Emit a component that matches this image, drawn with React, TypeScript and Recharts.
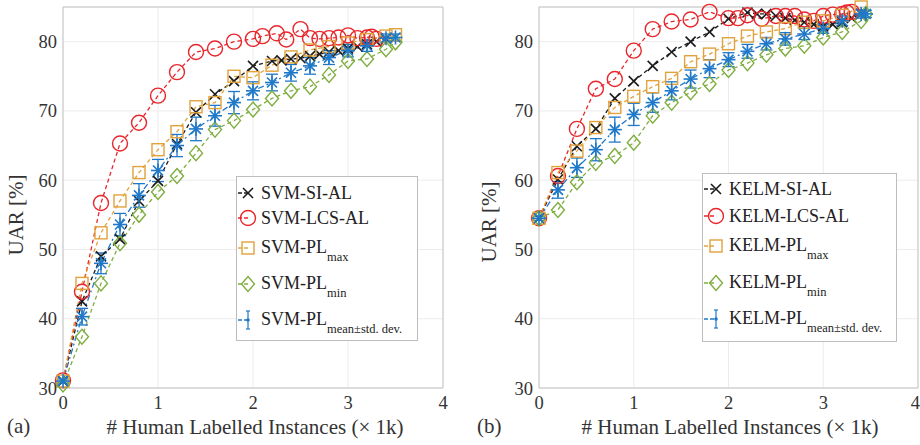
import React from "react";
import {
  LineChart,
  Line,
  XAxis,
  YAxis,
  CartesianGrid,
  ReferenceLine,
  ErrorBar,
  Legend,
} from "recharts";

const SERIF = "'Liberation Serif', 'Times New Roman', serif";

const X_TICKS = [0, 1, 2, 3, 4];
const Y_TICKS = [30, 40, 50, 60, 70, 80];

// panel (a) – SVM
const SVM_SI_X = [0, 0.2, 0.4, 0.6, 0.8, 1.0, 1.2, 1.4, 1.6, 1.8, 2.0, 2.2, 2.3, 2.4, 2.5, 2.6, 2.7, 2.8, 2.9, 3.0, 3.1, 3.2, 3.3, 3.4];
const SVM_SI_Y = [31.0, 42.5, 49.0, 51.5, 57.0, 59.9, 65.2, 69.8, 72.4, 74.3, 76.5, 77.2, 77.3, 77.5, 77.6, 77.9, 78.2, 78.5, 78.7, 79.0, 79.3, 79.6, 80.0, 80.4];

const SVM_LCS_X = [0, 0.2, 0.4, 0.6, 0.8, 1.0, 1.2, 1.4, 1.6, 1.8, 2.0, 2.1, 2.25, 2.35, 2.5, 2.6, 2.7, 2.8, 2.9, 3.0, 3.1, 3.2, 3.25, 3.3];
const SVM_LCS_Y = [31.1, 43.9, 56.7, 65.3, 68.3, 72.2, 75.6, 78.5, 79.0, 80.0, 80.4, 80.8, 81.2, 80.3, 81.8, 80.5, 80.4, 80.5, 80.6, 80.9, 80.5, 80.6, 80.7, 80.4];

const SVM_PL_X = [0, 0.2, 0.4, 0.6, 0.8, 1.0, 1.2, 1.4, 1.6, 1.8, 2.0, 2.2, 2.4, 2.6, 2.8, 3.0, 3.2, 3.4, 3.5];
const SVM_MAX_Y = [31.0, 45.1, 52.4, 57.0, 61.1, 64.4, 67.0, 70.6, 71.2, 75.0, 74.8, 76.6, 77.8, 78.8, 79.3, 79.8, 80.3, 80.8, 81.0];
const SVM_MIN_Y = [30.5, 37.4, 45.1, 50.9, 55.0, 58.3, 60.6, 63.9, 67.3, 68.6, 70.2, 71.8, 72.9, 73.5, 75.2, 77.2, 77.5, 78.9, 79.9];
const SVM_MEAN_Y = [31.0, 40.3, 48.0, 53.6, 57.8, 61.4, 65.0, 67.4, 69.3, 71.2, 72.9, 74.1, 75.5, 76.5, 77.7, 78.7, 79.4, 80.5, 80.6];
const SVM_STD = [0.3, 1.2, 1.5, 1.6, 1.7, 1.6, 1.6, 1.7, 1.5, 1.6, 1.3, 1.2, 1.2, 1.2, 1.0, 0.9, 0.8, 0.6, 0.5];

// panel (b) – KELM
const KELM_SI_X = [0, 0.2, 0.4, 0.6, 0.8, 1.0, 1.2, 1.4, 1.6, 1.8, 2.0, 2.2, 2.3, 2.4, 2.5, 2.6, 2.7, 2.8, 2.9, 3.0, 3.1, 3.2, 3.3, 3.4];
const KELM_SI_Y = [54.5, 60.1, 64.9, 67.4, 71.8, 74.3, 76.5, 78.5, 80.0, 81.4, 83.3, 84.2, 84.0, 84.0, 83.7, 83.4, 83.1, 82.8, 82.5, 82.2, 82.5, 82.8, 83.4, 84.0];

const KELM_LCS_X = [0, 0.2, 0.4, 0.6, 0.8, 1.0, 1.2, 1.4, 1.6, 1.8, 2.0, 2.1, 2.2, 2.35, 2.5, 2.6, 2.7, 2.8, 2.9, 3.0, 3.1, 3.2, 3.25, 3.3];
const KELM_LCS_Y = [54.5, 60.6, 67.4, 73.2, 74.6, 78.7, 81.8, 82.9, 83.2, 84.3, 83.4, 83.4, 83.8, 83.3, 83.7, 83.7, 83.7, 83.2, 83.0, 83.7, 83.9, 84.0, 84.2, 84.3];

const KELM_MAX_X = [0, 0.2, 0.4, 0.6, 0.8, 1.0, 1.2, 1.4, 1.6, 1.8, 2.0, 2.2, 2.4, 2.6, 2.8, 3.0, 3.2, 3.4];
const KELM_MAX_Y = [54.5, 61.1, 64.2, 67.6, 70.5, 72.1, 73.5, 74.7, 77.1, 78.2, 79.7, 80.8, 81.4, 81.9, 82.8, 83.0, 83.8, 85.0];

const KELM_PL_X = [0, 0.2, 0.4, 0.6, 0.8, 1.0, 1.2, 1.4, 1.6, 1.8, 2.0, 2.2, 2.4, 2.6, 2.8, 3.0, 3.2, 3.4, 3.45];
const KELM_MIN_Y = [54.5, 55.7, 59.7, 62.5, 63.5, 65.4, 69.3, 71.2, 72.7, 73.9, 75.9, 76.9, 78.1, 79.0, 79.4, 80.6, 81.4, 83.0, 84.0];
const KELM_MEAN_Y = [54.5, 58.6, 61.8, 64.4, 67.3, 69.5, 71.2, 72.9, 74.6, 76.1, 77.4, 78.6, 79.7, 80.4, 81.1, 81.9, 83.0, 84.0, 84.0];
const KELM_STD = [0.3, 1.2, 1.4, 1.6, 1.8, 1.6, 1.4, 1.3, 1.3, 1.3, 1.0, 1.0, 0.9, 0.9, 0.8, 0.7, 0.7, 0.6, 0.5];

const BLACK = "#1c1c1c";
const RED = "#e8262b";
const ORANGE = "#e2a23c";
const GREEN = "#7fae3f";
const BLUE = "#1f78c8";

type Shape = "x" | "circle" | "square" | "diamond" | "star";

interface Series {
  id: string;
  name: string;
  sub?: string;
  shape: Shape;
  color: string;
  dash: string;
  xs: number[];
  ys: number[];
  err?: number[];
}

function rows(xs: number[], ys: number[], err?: number[]) {
  return xs.map((x, i) => ({ x, y: ys[i], err: err ? err[i] : undefined }));
}

function Marker({ shape, cx, cy, color }: { shape: Shape; cx: number; cy: number; color: string }) {
  if (cx == null || cy == null) return null;
  switch (shape) {
    case "x":
      return (
        <g stroke={color} strokeWidth={1.6}>
          <line x1={cx - 5} y1={cy - 5} x2={cx + 5} y2={cy + 5} />
          <line x1={cx - 5} y1={cy + 5} x2={cx + 5} y2={cy - 5} />
        </g>
      );
    case "circle":
      return <circle cx={cx} cy={cy} r={7.5} fill="none" stroke={color} strokeWidth={1.4} />;
    case "square":
      return <rect x={cx - 6} y={cy - 6} width={12} height={12} fill="none" stroke={color} strokeWidth={1.4} />;
    case "diamond":
      return (
        <polygon
          points={`${cx},${cy - 7.5} ${cx + 6.5},${cy} ${cx},${cy + 7.5} ${cx - 6.5},${cy}`}
          fill="none"
          stroke={color}
          strokeWidth={1.4}
        />
      );
    case "star":
      return (
        <g stroke={color} strokeWidth={1.6}>
          <line x1={cx - 7} y1={cy} x2={cx + 7} y2={cy} />
          <line x1={cx} y1={cy - 7} x2={cx} y2={cy + 7} />
          <line x1={cx - 5} y1={cy - 5} x2={cx + 5} y2={cy + 5} />
          <line x1={cx - 5} y1={cy + 5} x2={cx + 5} y2={cy - 5} />
        </g>
      );
  }
  return null;
}

function LegendBox({
  items,
  width,
  height,
  rowCenters,
  markerX,
}: {
  items: Series[];
  width: number;
  height: number;
  rowCenters: number[];
  markerX: number;
}) {
  return (
    <div
      style={{
        width,
        height,
        border: "1px solid #bdbdbd",
        background: "#fff",
        position: "relative",
        boxSizing: "border-box",
        fontFamily: SERIF,
        color: "#222",
      }}
    >
      {items.map((it, i) => (
        <div
          key={it.id}
          style={{ position: "absolute", left: 0, top: rowCenters[i] - 11, height: 22, display: "flex", alignItems: "center", whiteSpace: "nowrap" }}
        >
          <svg width={markerX + 11} height={22} style={{ display: "block" }}>
            <line x1={1} y1={11} x2={markerX} y2={11} stroke={it.color} strokeWidth={1.3} strokeDasharray="4 2" />
            {it.err && (
              <g stroke={it.color} strokeWidth={1.2}>
                <line x1={markerX} y1={2} x2={markerX} y2={20} />
                <line x1={markerX - 2} y1={2} x2={markerX + 2} y2={2} />
                <line x1={markerX - 2} y1={20} x2={markerX + 2} y2={20} />
              </g>
            )}
            {it.err ? (
              <circle cx={markerX} cy={11} r={1.8} fill={it.color} />
            ) : (
              <Marker shape={it.shape} cx={markerX} cy={11} color={it.color} />
            )}
          </svg>
          <span style={{ fontSize: 18, lineHeight: "22px", marginLeft: 2 }}>
            {it.name}
            {it.sub && <span style={{ fontSize: 12.5, position: "relative", top: 8 }}>{it.sub}</span>}
          </span>
        </div>
      ))}
    </div>
  );
}

function Panel({
  series,
  yAxisWidth,
  rightMargin,
  legendLeft,
  legendTop,
  legendWidth,
  legendHeight,
  rowCenters,
  markerX,
}: {
  series: Series[];
  yAxisWidth: number;
  rightMargin: number;
  legendLeft: number;
  legendTop: number;
  legendWidth: number;
  legendHeight: number;
  rowCenters: number[];
  markerX: number;
}) {
  const tick = { fill: "#333", fontSize: 18.5, fontFamily: SERIF };
  return (
    <LineChart width={460} height={445} margin={{ top: 7, right: rightMargin, bottom: 27, left: 0 }}>
      <CartesianGrid stroke="#ececec" strokeWidth={1} />
      <XAxis
        type="number"
        dataKey="x"
        domain={[0, 4]}
        ticks={X_TICKS}
        height={30}
        tick={tick}
        tickLine={false}
        tickSize={4}
        tickMargin={4}
        axisLine={{ stroke: "#c4c4c4" }}
        allowDuplicatedCategory={false}
      />
      <YAxis
        type="number"
        domain={[30, 85]}
        ticks={Y_TICKS}
        width={yAxisWidth}
        tick={tick}
        tickLine={false}
        tickSize={4}
        tickMargin={2}
        axisLine={{ stroke: "#c4c4c4" }}
      />
      <ReferenceLine y={85} stroke="#c4c4c4" />
      <ReferenceLine x={4} stroke="#c4c4c4" />
      {series.map((s) => (
        <Line
          key={s.id}
          data={rows(s.xs, s.ys, s.err)}
          dataKey="y"
          name={s.id}
          type="linear"
          stroke={s.color}
          strokeWidth={1.3}
          strokeDasharray={s.dash}
          isAnimationActive={false}
          activeDot={false}
          dot={(p: any) => <Marker key={`${s.id}-${p.index}`} shape={s.shape} cx={p.cx} cy={p.cy} color={s.color} />}
        >
          {s.err && <ErrorBar dataKey="err" direction="y" width={6} stroke={s.color} strokeWidth={1.3} />}
        </Line>
      ))}
      <Legend
        layout="vertical"
        align="center"
        verticalAlign="middle"
        wrapperStyle={{ left: legendLeft, top: legendTop, width: legendWidth }}
        content={() => (
          <LegendBox items={series} width={legendWidth} height={legendHeight} rowCenters={rowCenters} markerX={markerX} />
        )}
      />
    </LineChart>
  );
}

const SVM_SERIES: Series[] = [
  { id: "svm-si", name: "SVM-SI-AL", shape: "x", color: BLACK, dash: "4 3", xs: SVM_SI_X, ys: SVM_SI_Y },
  { id: "svm-lcs", name: "SVM-LCS-AL", shape: "circle", color: RED, dash: "4 3", xs: SVM_LCS_X, ys: SVM_LCS_Y },
  { id: "svm-max", name: "SVM-PL", sub: "max", shape: "square", color: ORANGE, dash: "4 3", xs: SVM_PL_X, ys: SVM_MAX_Y },
  { id: "svm-min", name: "SVM-PL", sub: "min", shape: "diamond", color: GREEN, dash: "4 3", xs: SVM_PL_X, ys: SVM_MIN_Y },
  { id: "svm-mean", name: "SVM-PL", sub: "mean±std. dev.", shape: "star", color: BLUE, dash: "6 3 2 3", xs: SVM_PL_X, ys: SVM_MEAN_Y, err: SVM_STD },
];

const KELM_SERIES: Series[] = [
  { id: "kelm-si", name: "KELM-SI-AL", shape: "x", color: BLACK, dash: "4 3", xs: KELM_SI_X, ys: KELM_SI_Y },
  { id: "kelm-lcs", name: "KELM-LCS-AL", shape: "circle", color: RED, dash: "4 3", xs: KELM_LCS_X, ys: KELM_LCS_Y },
  { id: "kelm-max", name: "KELM-PL", sub: "max", shape: "square", color: ORANGE, dash: "4 3", xs: KELM_MAX_X, ys: KELM_MAX_Y },
  { id: "kelm-min", name: "KELM-PL", sub: "min", shape: "diamond", color: GREEN, dash: "4 3", xs: KELM_PL_X, ys: KELM_MIN_Y },
  { id: "kelm-mean", name: "KELM-PL", sub: "mean±std. dev.", shape: "star", color: BLUE, dash: "6 3 2 3", xs: KELM_PL_X, ys: KELM_MEAN_Y, err: KELM_STD },
];

const title: React.CSSProperties = {
  position: "absolute",
  fontFamily: SERIF,
  fontSize: 21,
  color: "#333",
  whiteSpace: "nowrap",
  lineHeight: "24px",
};

export default function App() {
  return (
    <div style={{ position: "absolute", left: 0, top: 0, width: 920, height: 445, background: "#fff", overflow: "hidden" }}>
      <div style={{ position: "absolute", left: 0, top: 0 }}>
        <Panel
          series={SVM_SERIES}
          yAxisWidth={63}
          rightMargin={17}
          legendLeft={236}
          legendTop={176}
          legendWidth={182}
          legendHeight={165}
          rowCenters={[16, 41, 71, 107, 143]}
          markerX={11}
        />
      </div>
      <div style={{ position: "absolute", left: 460, top: 0 }}>
        <Panel
          series={KELM_SERIES}
          yAxisWidth={79}
          rightMargin={2}
          legendLeft={242}
          legendTop={173}
          legendWidth={195}
          legendHeight={169}
          rowCenters={[15, 42, 72, 109, 145]}
          markerX={13}
        />
      </div>

      <div style={{ ...title, left: 105, top: 415, width: 300, textAlign: "center" }}># Human Labelled Instances (× 1k)</div>
      <div style={{ ...title, left: 580, top: 415, width: 300, textAlign: "center" }}># Human Labelled Instances (× 1k)</div>
      <div style={{ ...title, left: 7, top: 414 }}>(a)</div>
      <div style={{ ...title, left: 477, top: 414 }}>(b)</div>
      <div style={{ ...title, left: 16, top: 215, transform: "translate(-50%, -50%) rotate(-90deg)" }}>UAR [%]</div>
      <div style={{ ...title, left: 489, top: 222, transform: "translate(-50%, -50%) rotate(-90deg)" }}>UAR [%]</div>
    </div>
  );
}
